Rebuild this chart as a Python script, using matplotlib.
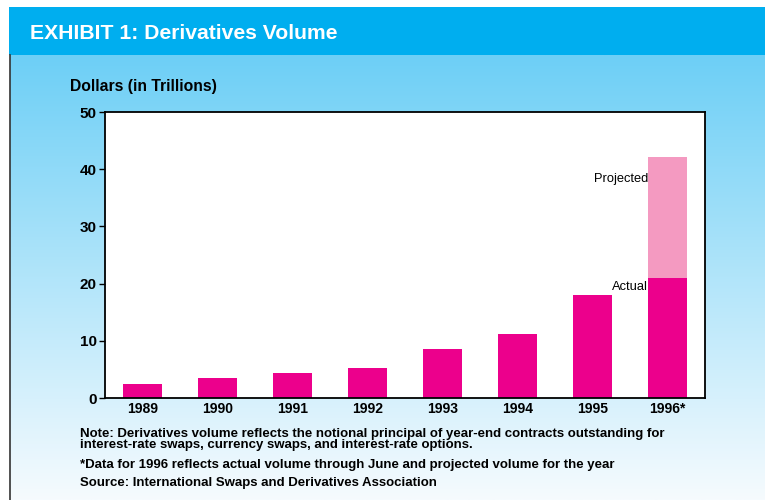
import numpy as np
import matplotlib
matplotlib.use("Agg")
import matplotlib.pyplot as plt
from matplotlib.patches import Rectangle
from matplotlib.lines import Line2D

plt.rcParams['font.family'] = ['Liberation Sans', 'DejaVu Sans']

years = ["1989", "1990", "1991", "1992", "1993", "1994", "1995", "1996*"]
actual = [2.45, 3.55, 4.4, 5.2, 8.6, 11.2, 18.0, 21.0]
projected_total = [None, None, None, None, None, None, None, 42.2]
yticks = [0, 10, 20, 30, 40, 50]

title = "EXHIBIT 1: Derivatives Volume"
ylabel = "Dollars (in Trillions)"
notes = [
    "Note: Derivatives volume reflects the notional principal of year-end contracts outstanding for\ninterest-rate swaps, currency swaps, and interest-rate options.",
    "*Data for 1996 reflects actual volume through June and projected volume for the year",
    "Source: International Swaps and Derivatives Association",
]

W, H = 765, 500
fig = plt.figure(figsize=(W / 100, H / 100), dpi=100)
fig.patch.set_facecolor("white")

def fx(px):
    return px / W

def fy(py):
    return 1 - py / H

# gradient background
bg = fig.add_axes([fx(10), 0, 1 - fx(10), fy(55)])
top = np.array([0x6D, 0xCF, 0xF6]) / 255
bot = np.array([0xF6, 0xFB, 0xFE]) / 255
t = np.linspace(0, 1, 256)[:, None]
grad = top[None, :] * (1 - t) + bot[None, :] * t
grad = np.repeat(grad[:, None, :], 2, axis=1)
bg.imshow(grad, aspect="auto", extent=[0, 1, 0, 1], origin="upper")
bg.set_axis_off()

# title bar
fig.patches.append(Rectangle((fx(9), fy(55)), 1 - fx(9), fy(7) - fy(55),
                             transform=fig.transFigure, facecolor="#00AEEF",
                             edgecolor="none", zorder=1))
fig.lines.append(Line2D([fx(9.5), fx(9.5)], [0, fy(55)], transform=fig.transFigure,
                        color="#333333", lw=1.2))
fig.text(fx(30), fy(33), title, color="white", fontsize=15.2, fontweight="bold",
         va="center", ha="left")
fig.text(fx(70), fy(87), ylabel, color="black", fontsize=11.3, fontweight="bold",
         va="center", ha="left")

# main plot
ax = fig.add_axes([fx(105), fy(398), fx(705) - fx(105), fy(112) - fy(398)])
ax.set_facecolor("white")
x = np.arange(len(years))
ax.bar(x, actual, width=0.52, color="#EC008C", zorder=2)
proj_x = [i for i, v in enumerate(projected_total) if v is not None]
proj_h = [projected_total[i] - actual[i] for i in proj_x]
proj_b = [actual[i] for i in proj_x]
ax.bar(proj_x, proj_h, bottom=proj_b, width=0.52, color="#F49AC1", zorder=2)

ax.set_xlim(-0.5, len(years) - 0.5)
ax.set_ylim(0, 50)
ax.set_yticks(yticks)
ax.set_yticklabels([str(v) for v in yticks], fontsize=11, fontweight="bold")
ax.set_xticks(x)
ax.set_xticklabels(years, fontsize=10, fontweight="bold")
ax.tick_params(axis="x", length=0, pad=3)
ax.tick_params(axis="y", length=4, width=1, pad=2)
for s in ax.spines.values():
    s.set_linewidth(1.3)
    s.set_color("black")

i96 = len(years) - 1
ax.text(i96 - 0.26, 38.3, "Projected", ha="right", va="center", fontsize=9.3)
ax.text(i96 - 0.26, 19.4, "Actual", ha="right", va="center", fontsize=9.3)

fig.text(fx(80), fy(428.5), notes[0], fontsize=9.5, fontweight="bold", va="top",
         ha="left", linespacing=0.85)
fig.text(fx(80), fy(465), notes[1], fontsize=9.5, fontweight="bold", va="center", ha="left")
fig.text(fx(80), fy(483), notes[2], fontsize=9.5, fontweight="bold", va="center", ha="left")

fig.savefig("out.png", dpi=100)
